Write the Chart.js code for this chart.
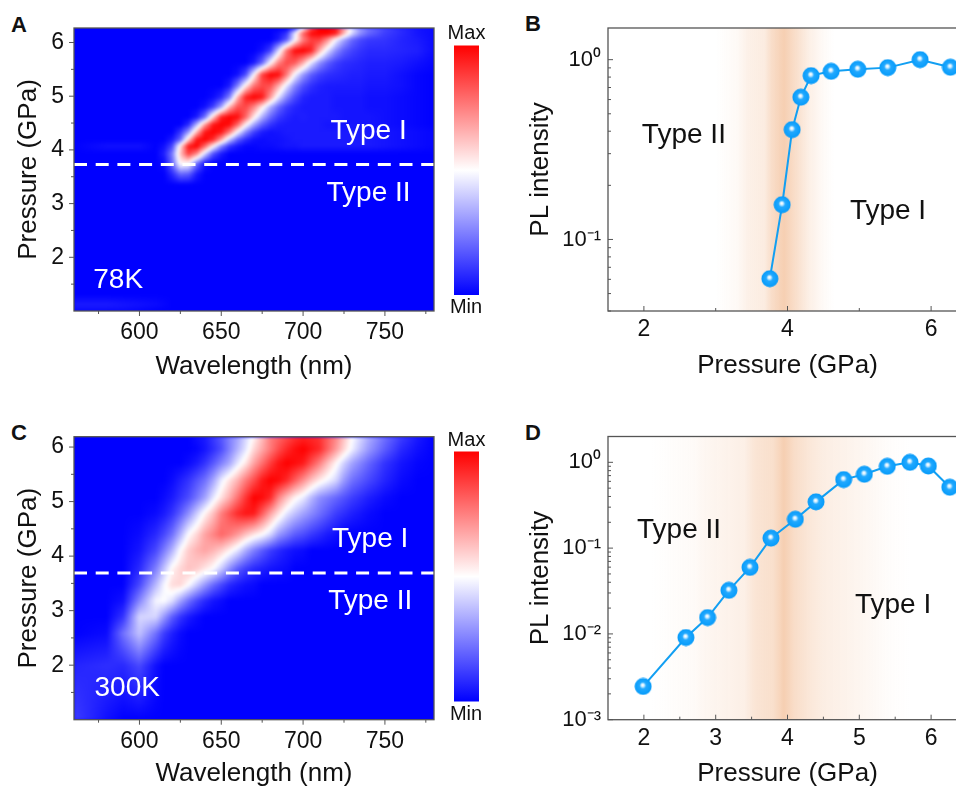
<!DOCTYPE html>
<html>
<head>
<meta charset="utf-8">
<script src="https://cdn.jsdelivr.net/npm/chart.js@4"></script>
<style>
  html, body { margin: 0; background: #fff; overflow: hidden; width: 956px; height: 787px; }
  canvas { position: absolute; }
  .tag { position: absolute; font: bold 22px "Liberation Sans", Arial, sans-serif; color: #111; line-height: 24px; }
</style>
</head>
<body>
<div class="tag" style="left:11px;top:13px">A</div>
<div class="tag" style="left:525px;top:12px">B</div>
<div class="tag" style="left:11px;top:421px">C</div>
<div class="tag" style="left:525px;top:421px">D</div>
<canvas id="panelA" width="500" height="395" style="left:0;top:0"></canvas>
<canvas id="panelB" width="467" height="395" style="left:510px;top:0"></canvas>
<canvas id="panelC" width="500" height="394" style="left:0;top:400px"></canvas>
<canvas id="panelD" width="467" height="384" style="left:510px;top:410px"></canvas>
<script>
// ---------- data ----------
const wavelengths = [560,580,590,600,610, 615,620,625,630,635, 640,645,650,655,660, 665,670,675,680,685, 690,695,700,705,710, 715,720,725,730,735, 740,750,760,770,780];

// Panel A, 78K: one spectrum per pressure, 0 = Min, 100 = Max
const pressuresA = [1.0, 1.12, 1.3, 3.35, 3.55, 3.75, 3.93, 4.07, 4.19, 4.33, 4.47, 4.61, 4.8, 4.98, 5.19, 5.4, 5.62, 5.85, 6.05, 6.17, 6.27];
const spectraA = [
  [2,2,2,1,0, 0,0,0,0,0, 0,0,0,0,0, 0,0,0,0,0, 0,0,0,0,0, 0,0,0,0,0, 0,0,0,0,0],
  [5,5,4,3,2, 1,0,0,0,0, 0,0,0,0,0, 0,0,0,0,0, 0,0,0,0,0, 0,0,0,0,0, 0,0,0,0,0],
  [0,0,0,0,0, 0,0,0,0,0, 0,0,0,0,0, 0,0,0,0,0, 0,0,0,0,0, 0,0,0,0,0, 0,0,0,0,0],
  [0,0,0,0,0, 0,0,0,0,0, 0,0,0,0,0, 0,0,0,0,0, 0,0,0,0,0, 0,0,0,0,0, 0,0,0,0,0],
  [0,0,0,0,0, 0,8,20,18,5, 0,0,0,0,0, 0,0,0,0,0, 0,0,0,0,0, 0,0,0,0,0, 0,0,0,0,0],
  [0,0,0,0,0, 2,20,52,50,22, 4,0,0,0,0, 0,0,0,0,0, 0,0,0,0,0, 0,0,0,0,0, 0,0,0,0,0],
  [0,0,0,0,0, 6,24,62,88,74, 42,16,5,0,0, 0,0,0,0,0, 0,0,0,0,0, 0,0,0,0,0, 0,0,0,0,0],
  [0,3,3,3,0, 3,14,56,96,100, 80,52,26,10,4, 1,1,2,2,3, 4,4,5,5,5, 5,5,5,5,5, 5,4,3,2,1],
  [0,0,0,0,0, 0,5,20,60,96, 100,92,68,38,18, 8,3,2,3,3, 4,5,5,5,5, 5,5,5,5,5, 5,4,3,2,1],
  [0,0,0,0,0, 0,0,10,30,65, 96,100,96,76,48, 26,12,5,3,4, 5,5,5,5,5, 5,5,5,5,5, 4,4,3,2,1],
  [0,0,0,0,0, 0,0,0,8,35, 70,96,100,98,80, 52,32,18,10,6, 5,5,5,5,5, 4,4,4,4,4, 4,3,2,1,0],
  [0,0,0,0,0, 0,0,0,0,5, 22,60,94,100,98, 80,54,34,20,11, 7,5,6,5,5, 5,5,4,4,4, 4,3,2,1,0],
  [0,0,0,0,0, 0,0,0,0,0, 3,12,32,65,84, 86,74,54,34,20, 11,7,5,5,5, 5,4,4,4,4, 3,3,2,1,0],
  [0,0,0,0,0, 0,0,0,0,0, 0,2,8,25,65, 94,100,96,70,44, 26,14,7,5,5, 5,4,4,4,4, 3,3,2,1,0],
  [0,0,0,0,0, 0,0,0,0,0, 0,0,0,5,25, 55,78,86,84,66, 44,26,15,9,6, 5,5,5,5,5, 4,4,3,1,0],
  [0,0,0,0,0, 0,0,0,0,0, 0,0,0,0,3, 15,50,88,100,98, 76,48,30,18,12, 9,8,7,6,6, 5,5,3,1,0],
  [0,0,0,0,0, 0,0,0,0,0, 0,0,0,0,0, 0,5,20,50,75, 86,82,66,44,28, 18,12,9,8,7, 6,6,5,3,1],
  [0,0,0,0,0, 0,0,0,0,0, 0,0,0,0,0, 0,0,3,12,42, 78,98,100,94,66, 44,28,18,13,10, 8,8,7,6,2],
  [0,0,0,0,0, 0,0,0,0,0, 0,0,0,0,0, 0,0,0,0,5, 18,48,75,88,88, 72,48,32,20,14, 11,10,7,5,2],
  [0,0,0,0,0, 0,0,0,0,0, 0,0,0,0,0, 0,0,0,0,3, 10,45,80,98,100, 100,95,65,42,28, 20,12,8,4,2],
  [0,0,0,0,0, 0,0,0,0,0, 0,0,0,0,0, 0,0,0,0,0, 0,10,50,85,100, 100,95,70,45,30, 22,14,8,4,2]
];

// Panel C, 300K
const pressuresC = [1.0, 1.99, 2.585, 2.887, 3.184, 3.477, 3.77, 4.109, 4.397, 4.782, 5.07, 5.39, 5.706, 5.962, 6.19];
const spectraC = [
  [12,3,0,0,0, 0,0,0,0,0, 0,0,0,0,0, 0,0,0,0,0, 0,0,0,0,0, 0,0,0,0,0, 0,0,0,0,0],
  [7,9,8,14,3, 0,0,0,0,0, 0,0,0,0,0, 0,0,0,0,0, 0,0,0,0,0, 0,0,0,0,0, 0,0,0,0,0],
  [0,2,22,38,22, 12,6,2,0,0, 0,0,0,0,0, 0,0,0,0,0, 0,0,0,0,0, 0,0,0,0,0, 0,0,0,0,0],
  [0,0,10,42,42, 30,18,10,5,2, 0,0,0,0,0, 0,0,0,0,0, 0,0,0,0,0, 0,0,0,0,0, 0,0,0,0,0],
  [0,0,3,26,48, 50,44,32,22,14, 8,4,2,0,0, 0,0,0,0,0, 0,0,0,0,0, 0,0,0,0,0, 0,0,0,0,0],
  [0,0,0,14,36, 48,57,58,50,40, 30,21,14,8,5, 3,2,0,0,0, 0,0,0,0,0, 0,0,0,0,0, 0,0,0,0,0],
  [0,0,0,8,25, 38,52,58,62,60, 55,50,40,28,18, 12,8,6,4,3, 2,0,0,0,0, 0,0,0,0,0, 0,0,0,0,0],
  [0,0,0,4,14, 24,35,50,60,65, 68,65,60,53,45, 34,25,18,12,8, 5,3,2,0,0, 0,0,0,0,0, 0,0,0,0,0],
  [0,0,0,2,8, 14,22,35,50,58, 68,74,80,76,70, 62,55,50,42,30, 24,18,15,11,8, 5,3,0,0,0, 0,0,0,0,0],
  [0,0,0,0,2, 5,10,18,28,40, 52,62,75,84,92, 96,95,82,68,56, 45,38,32,27,22, 17,12,9,6,4, 2,0,0,0,0],
  [0,0,0,0,0, 2,5,10,15,23, 32,45,56,66,78, 90,100,98,92,74, 62,52,46,36,28, 24,20,16,12,9, 6,2,0,0,0],
  [0,0,0,0,0, 0,2,6,10,16, 22,32,46,56,65, 76,85,95,100,98, 92,82,72,62,54, 48,42,30,22,18, 14,7,2,0,0],
  [0,0,0,0,0, 0,0,0,2,5, 10,17,25,33,45, 55,68,78,88,96, 100,98,95,85,75, 63,52,41,32,26, 20,10,4,1,0],
  [0,0,0,0,0, 0,0,0,0,1, 4,9,15,25,35, 45,58,67,76,85, 92,97,100,96,92, 81,70,58,47,38, 30,18,8,3,0],
  [0,0,0,0,0, 0,0,0,0,3, 5,11,17,25,32, 42,52,63,75,80, 85,90,93,92,90, 82,74,62,50,42, 34,22,12,5,0]
];

// Panels B and D: PL intensity against pressure
const pressureB = [3.754, 3.926, 4.065, 4.186, 4.329, 4.608, 4.979, 5.397, 5.847, 6.269];
const intensityB = [0.0605, 0.156, 0.408, 0.618, 0.815, 0.861, 0.884, 0.903, 1.0, 0.907];
const pressureD = [1.99, 2.585, 2.887, 3.184, 3.477, 3.77, 4.109, 4.397, 4.782, 5.07, 5.39, 5.706, 5.962, 6.26];
const intensityD = [0.00244, 0.00907, 0.0155, 0.0322, 0.0596, 0.1307, 0.217, 0.346, 0.629, 0.725, 0.898, 1.0, 0.906, 0.512];

// peach background bands: [pressure, strength]
const bandB = [[3.0,0],[3.3,0.12],[3.45,0.3],[3.68,0.4],[3.78,0.7],[3.95,1],[4.1,0.7],[4.3,0.32],[4.5,0.1],[4.65,0]];
const bandD = [[2.1,0],[2.7,0.1],[2.85,0.18],[3.4,0.32],[3.55,0.55],[3.8,0.66],[3.95,1],[4.1,0.7],[4.3,0.5],[4.5,0.36],[5.0,0.2],[5.4,0.05],[5.7,0]];

// axis ticks
const wlTicks = [600, 650, 700, 750];
const wlMinor = [575, 625, 675, 725, 775];
const pTicks = [2, 3, 4, 5, 6];
const pMinor = [1.5, 2.5, 3.5, 4.5, 5.5];
const bxTicks = [2, 4, 6];
const bxMinor = [3, 5];
const dxMinor = [2.5, 3.5, 4.5, 5.5];
const byTicks = [1, 0.1];
const byLabels = ["10⁰", "10⁻¹"];
const byMinor = [0.04, 0.05, 0.06, 0.07, 0.08, 0.09, 0.2, 0.3, 0.4, 0.5, 0.6, 0.7, 0.8, 0.9];
const dyTicks = [1, 0.1, 0.01, 0.001];
const dyLabels = ["10⁰", "10⁻¹", "10⁻²", "10⁻³"];
const dyMinor = [0.002, 0.003, 0.004, 0.005, 0.006, 0.007, 0.008, 0.009, 0.02, 0.03, 0.04, 0.05, 0.06, 0.07, 0.08, 0.09, 0.2, 0.3, 0.4, 0.5, 0.6, 0.7, 0.8, 0.9, 2];

const FONT = '"Liberation Sans", Arial, sans-serif';
const INK = "#111";
const AXIS = "#555";

// ---------- helpers ----------
function heatColor(v) {
  const t = Math.max(0, Math.min(100, v)) / 50;
  if (t <= 1) return [Math.round(255 * t), Math.round(255 * t), 255];
  return [255, Math.round(255 * (2 - t)), Math.round(255 * (2 - t))];
}

function bracket(list, v) {
  let i = 0;
  while (i < list.length - 2 && list[i + 1] < v) i++;
  const f = (v - list[i]) / (list[i + 1] - list[i]);
  return [i, Math.max(0, Math.min(1, f))];
}

function sphere() {
  const c = document.createElement("canvas");
  c.width = c.height = 18;
  const g = c.getContext("2d");
  const grad = g.createRadialGradient(8.5, 7.5, 0.5, 9, 9, 8.5);
  grad.addColorStop(0, "#ffffff");
  grad.addColorStop(0.14, "#c5eaff");
  grad.addColorStop(0.36, "#22a9ff");
  grad.addColorStop(1, "#069bfa");
  g.fillStyle = grad;
  g.beginPath();
  g.arc(9, 9, 8.5, 0, Math.PI * 2);
  g.fill();
  return c;
}

// ---------- plugins ----------
function heatmap(rows, spectra) {
  return {
    id: "heatmap",
    beforeDatasetsDraw(chart) {
      const { ctx, chartArea: a, scales: { x, y } } = chart;
      const w = Math.round(a.width), h = Math.round(a.height);
      const off = document.createElement("canvas");
      off.width = w; off.height = h;
      const g = off.getContext("2d");
      const img = g.createImageData(w, h);
      for (let py = 0; py < h; py++) {
        const [r, fr] = bracket(rows, y.getValueForPixel(a.top + py + 0.5));
        for (let px = 0; px < w; px++) {
          const [c, fc] = bracket(wavelengths, x.getValueForPixel(a.left + px + 0.5));
          const lo = spectra[r][c] * (1 - fc) + spectra[r][c + 1] * fc;
          const hi = spectra[r + 1][c] * (1 - fc) + spectra[r + 1][c + 1] * fc;
          const col = heatColor(lo * (1 - fr) + hi * fr);
          const k = (py * w + px) * 4;
          img.data[k] = col[0]; img.data[k + 1] = col[1]; img.data[k + 2] = col[2]; img.data[k + 3] = 255;
        }
      }
      g.putImageData(img, 0, 0);
      ctx.save();
      ctx.fillStyle = "#0000ff";
      ctx.fillRect(a.left, a.top, a.width, a.height);
      ctx.beginPath();
      ctx.rect(a.left, a.top, a.width, a.height);
      ctx.clip();
      ctx.filter = "blur(1.5px)";
      ctx.drawImage(off, a.left, a.top, a.width, a.height);
      ctx.restore();
    }
  };
}

function band(stops) {
  return {
    id: "band",
    beforeDatasetsDraw(chart) {
      const { ctx, chartArea: a, scales: { x } } = chart;
      const x0 = x.getPixelForValue(stops[0][0]);
      const x1 = x.getPixelForValue(stops[stops.length - 1][0]);
      const grad = ctx.createLinearGradient(x0, 0, x1, 0);
      stops.forEach(([p, s]) => {
        grad.addColorStop((x.getPixelForValue(p) - x0) / (x1 - x0), `rgba(246,207,178,${s})`);
      });
      ctx.save();
      ctx.fillStyle = grad;
      ctx.fillRect(x0, a.top, x1 - x0, a.height);
      ctx.restore();
    }
  };
}

function frame(o) {
  return {
    id: "frame",
    afterDatasetsDraw(chart) {
      const { ctx, chartArea: a, scales: { x, y } } = chart;
      const dir = o.inward ? 1 : -1;
      ctx.save();
      ctx.strokeStyle = AXIS;
      ctx.lineWidth = 1.3;
      ctx.strokeRect(a.left, a.top, a.width, a.height);
      ctx.lineWidth = 1;
      ctx.beginPath();
      const xm = (v, len) => { const p = x.getPixelForValue(v); ctx.moveTo(p, a.bottom); ctx.lineTo(p, a.bottom - dir * len); };
      const ym = (v, len) => { const p = y.getPixelForValue(v); ctx.moveTo(a.left, p); ctx.lineTo(a.left + dir * len, p); };
      o.xTicks.forEach(v => xm(v, 5));
      o.xMinor.forEach(v => xm(v, 3));
      o.yTicks.forEach(v => ym(v, 5));
      o.yMinor.forEach(v => { if (v >= y.min && v <= y.max) ym(v, 3); });
      ctx.stroke();
      ctx.restore();
    },
    afterDraw(chart) {
      const { ctx, scales: { x, y } } = chart;
      ctx.save();
      ctx.textAlign = "center";
      ctx.textBaseline = "middle";
      (o.notes || []).forEach(n => {
        ctx.font = `${n.size}px ${FONT}`;
        ctx.fillStyle = n.color;
        ctx.fillText(n.text, x.getPixelForValue(n.x), y.getPixelForValue(n.y));
      });
      ctx.restore();
    }
  };
}

function colorbar(top, bottom, maxY, minY) {
  return {
    id: "colorbar",
    afterDraw(chart) {
      const { ctx } = chart;
      const grad = ctx.createLinearGradient(0, top, 0, bottom);
      grad.addColorStop(0, "#ff0000");
      grad.addColorStop(0.5, "#ffffff");
      grad.addColorStop(1, "#0000ff");
      ctx.save();
      ctx.fillStyle = grad;
      ctx.fillRect(454, top, 25, bottom - top);
      ctx.fillStyle = INK;
      ctx.font = `20px ${FONT}`;
      ctx.textAlign = "center";
      ctx.textBaseline = "middle";
      ctx.fillText("Max", 466.5, maxY);
      ctx.fillText("Min", 466, minY);
      ctx.restore();
    }
  };
}

// ---------- chart builder ----------
function axis(o) {
  return {
    type: o.type || "linear",
    min: o.min,
    max: o.max,
    grid: { display: false, drawTicks: false },
    border: { display: false },
    afterBuildTicks(s) { s.ticks = o.ticks.map(value => ({ value })); },
    afterFit(s) { if (o.height) s.height = o.height; if (o.width) s.width = o.width; },
    ticks: {
      autoSkip: false,
      maxRotation: 0,
      padding: o.pad,
      color: INK,
      font: { family: FONT, size: o.tickSize || 23 },
      callback: v => o.labels ? o.labels[o.ticks.indexOf(v)] : String(v)
    },
    title: { display: true, text: o.title, color: INK, font: { family: FONT, size: 26 }, padding: o.titlePad }
  };
}

function makeChart(id, datasets, scales, padding, plugins) {
  return new Chart(document.getElementById(id), {
    type: "scatter",
    data: { datasets },
    options: {
      responsive: false,
      animation: false,
      layout: { padding },
      plugins: { legend: { display: false }, tooltip: { enabled: false } },
      scales
    },
    plugins
  });
}

function dashed(y) {
  return {
    data: [{ x: 560, y }, { x: 780, y }],
    showLine: true,
    borderColor: "#fff",
    borderWidth: 3,
    borderDash: [13, 8.7],
    pointRadius: 0
  };
}

function curve(xs, ys) {
  return {
    data: xs.map((x, i) => ({ x, y: ys[i] })),
    showLine: true,
    borderColor: "#129ff2",
    borderWidth: 2,
    pointStyle: sphere(),
    pointRadius: 8,
    clip: false
  };
}

// ---------- 1. Panel A ----------
makeChart("panelA", [dashed(3.73)], {
  x: axis({ min: 560, max: 780, ticks: wlTicks, title: "Wavelength (nm)", height: 84, pad: 8, titlePad: 13 }),
  y: axis({ min: 1.0, max: 6.27, ticks: pTicks, title: "Pressure (GPa)", width: 74, pad: 10, titlePad: 13 })
}, { top: 28, right: 66 }, [
  heatmap(pressuresA, spectraA),
  frame({ xTicks: wlTicks, xMinor: wlMinor, yTicks: pTicks, yMinor: pMinor, notes: [
    { text: "Type I", x: 740, y: 4.34, size: 28, color: "#fff" },
    { text: "Type II", x: 740, y: 3.2, size: 28, color: "#fff" },
    { text: "78K", x: 587, y: 1.58, size: 28, color: "#fff" }
  ] }),
  colorbar(45.5, 295, 33, 307)
]);

// ---------- 2. Panel C ----------
makeChart("panelC", [dashed(3.69)], {
  x: axis({ min: 560, max: 780, ticks: wlTicks, title: "Wavelength (nm)", height: 74.3, pad: 8, titlePad: 5 }),
  y: axis({ min: 1.0, max: 6.19, ticks: pTicks, title: "Pressure (GPa)", width: 74, pad: 10, titlePad: 13 })
}, { top: 36.7, right: 66 }, [
  heatmap(pressuresC, spectraC),
  frame({ xTicks: wlTicks, xMinor: wlMinor, yTicks: pTicks, yMinor: pMinor, notes: [
    { text: "Type I", x: 741, y: 4.3, size: 28, color: "#fff" },
    { text: "Type II", x: 741, y: 3.17, size: 28, color: "#fff" },
    { text: "300K", x: 592.5, y: 1.58, size: 28, color: "#fff" }
  ] }),
  colorbar(51.5, 301.5, 40, 314)
]);

// ---------- 3. Panel B ----------
makeChart("panelB", [curve(pressureB, intensityB)], {
  x: axis({ min: 1.5, max: 6.5, ticks: bxTicks, title: "Pressure (GPa)", height: 84, pad: 5, titlePad: 14 }),
  y: axis({ type: "logarithmic", min: 0.04, max: 1.5, ticks: byTicks, labels: byLabels, tickSize: 22, title: "PL intensity", width: 98, pad: 7, titlePad: 15 })
}, { top: 28, right: 10 }, [
  band(bandB),
  frame({ inward: true, xTicks: bxTicks, xMinor: bxMinor, yTicks: byTicks, yMinor: byMinor, notes: [
    { text: "Type II", x: 2.557, y: 0.38, size: 28, color: INK },
    { text: "Type I", x: 5.4, y: 0.1437, size: 28, color: INK }
  ] })
]);

// ---------- 4. Panel D ----------
makeChart("panelD", [curve(pressureD, intensityD)], {
  x: axis({ min: 1.5, max: 6.5, ticks: pTicks, title: "Pressure (GPa)", height: 74.3, pad: 5, titlePad: 5 }),
  y: axis({ type: "logarithmic", min: 0.001, max: 2, ticks: dyTicks, labels: dyLabels, tickSize: 22, title: "PL intensity", width: 98, pad: 7, titlePad: 15 })
}, { top: 26.5, right: 10 }, [
  band(bandD),
  frame({ inward: true, xTicks: pTicks, xMinor: dxMinor, yTicks: dyTicks, yMinor: dyMinor, notes: [
    { text: "Type II", x: 2.49, y: 0.163, size: 28, color: INK },
    { text: "Type I", x: 5.47, y: 0.0213, size: 28, color: INK }
  ] })
]);
</script>
</body>
</html>
